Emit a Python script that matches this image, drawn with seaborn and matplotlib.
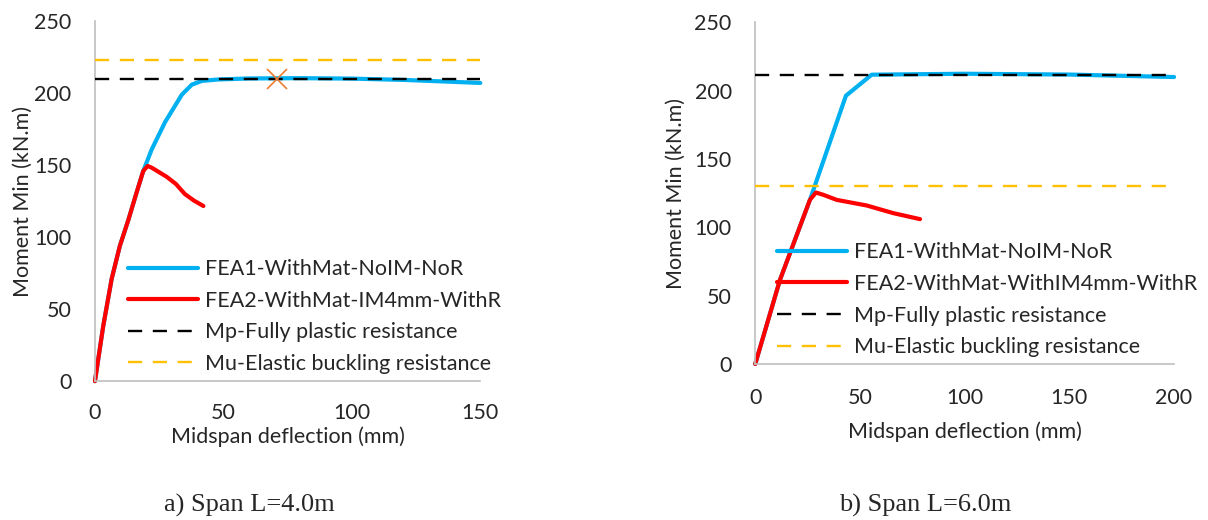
import numpy as np
import pandas as pd
import seaborn as sns
import matplotlib.pyplot as plt

# Span L=4.0m
fea1_4_x = [0, 3.2, 6.5, 9.7, 13.0, 16.2, 18.8, 22.1, 27.3, 33.8, 37.7, 41.6, 48, 60, 80, 100, 120, 150]
fea1_4_y = [0, 38, 71, 94, 112, 131, 146, 161, 180, 199, 206, 208.6, 209.6, 210.3, 210.5, 210.2, 209.3, 207.2]
fea2_4_x = [0, 3.2, 6.5, 9.7, 13.0, 16.2, 18.8, 20.5, 22.1, 27.9, 31.5, 35.0, 38.5, 42.2]
fea2_4_y = [0, 38, 71, 94, 112, 131, 146, 149.5, 148.3, 142, 137, 130, 125.5, 121.7]
mp_4 = 210
mu_4 = 223
cross_4 = (71, 210)

# Span L=6.0m
fea1_6_x = [0, 11.8, 26.1, 43.3, 55.6, 100, 150, 200]
fea1_6_y = [0, 61.5, 120, 196.3, 211.7, 212.4, 211.8, 210]
fea2_6_x = [0, 11.8, 26.1, 29.0, 32.5, 38.9, 53.2, 65.9, 78.7]
fea2_6_y = [0, 61.5, 120.1, 125.5, 123.8, 120.1, 116, 110.4, 106]
mp_6 = 211.2
mu_6 = 130.6

labels_4 = ["FEA1-WithMat-NoIM-NoR", "FEA2-WithMat-IM4mm-WithR",
            "Mp-Fully plastic resistance", "Mu-Elastic buckling resistance"]
labels_6 = ["FEA1-WithMat-NoIM-NoR", "FEA2-WithMat-WithIM4mm-WithR",
            "Mp-Fully plastic resistance", "Mu-Elastic buckling resistance"]

BLUE = "#00B0F0"
RED = "#FF0000"
YELLOW = "#FFC000"
ORANGE = "#ED7D31"
GREY = "#BFBFBF"

sns.set_style("white")
plt.rcParams['font.family'] = ['Lato', 'DejaVu Sans']
FS = 15.5

fig = plt.figure(figsize=(12.08, 5.2), dpi=100)
ax1 = fig.add_axes([0.0786, 0.267, 0.319, 0.692])
ax2 = fig.add_axes([0.6252, 0.300, 0.3467, 0.657])


def draw(ax, x1, y1, x2, y2, mp, mu, xmax, labels, xticks, xpad, ylpad):
    sns.lineplot(x=x1, y=y1, ax=ax, color=BLUE, lw=3, sort=False, estimator=None, label=labels[0])
    sns.lineplot(x=x2, y=y2, ax=ax, color=RED, lw=3, sort=False, estimator=None, label=labels[1])
    ax.plot([0, xmax], [mp, mp], color="black", lw=1.7, dashes=(6, 4.5), label=labels[2], zorder=3)
    ax.plot([0, xmax], [mu, mu], color=YELLOW, lw=1.7, dashes=(6, 4.5), label=labels[3], zorder=3)
    ax.set_xlim(0, xmax)
    ax.set_ylim(0, 250)
    ax.set_xticks(xticks)
    ax.set_yticks([0, 50, 100, 150, 200, 250])
    for s in ["top", "right"]:
        ax.spines[s].set_visible(False)
    for s in ["left", "bottom"]:
        ax.spines[s].set_color(GREY)
        ax.spines[s].set_linewidth(1.2)
    ax.tick_params(axis="both", which="major", direction="out", length=6, width=1.2,
                   color=GREY, labelsize=FS)
    ax.tick_params(axis="x", pad=xpad)
    ax.tick_params(axis="y", pad=11)
    ax.set_ylabel("Moment Min (kN.m)", fontsize=FS, labelpad=ylpad)
    for line in ax.get_lines():
        line.set_clip_on(False)


draw(ax1, fea1_4_x, fea1_4_y, fea2_4_x, fea2_4_y, mp_4, mu_4, 150, labels_4,
     [0, 50, 100, 150], 9.5, 1)
ax1.plot(*cross_4, marker="x", ms=14, mew=1.2, color=ORANGE, zorder=4)
ax1.set_xlabel("Midspan deflection (mm)", fontsize=FS, labelpad=3)
ax1.legend(loc="lower left", bbox_to_anchor=(0.086, 0.02), borderaxespad=0, borderpad=0,
           frameon=False, fontsize=FS, handlelength=3.25, labelspacing=0.54, handletextpad=0.33)

draw(ax2, fea1_6_x, fea1_6_y, fea2_6_x, fea2_6_y, mp_6, mu_6, 200, labels_6,
     [0, 50, 100, 150, 200], 11, 6)
ax2.set_xlabel("Midspan deflection (mm)", fontsize=FS, labelpad=10)
ax2.legend(loc="lower left", bbox_to_anchor=(0.052, 0.02), borderaxespad=0, borderpad=0,
           frameon=False, fontsize=FS, handlelength=3.25, labelspacing=0.54, handletextpad=0.33)

fig.text(249 / 1208, 1 - 505 / 520, "a) Span L=4.0m", ha="center", va="center",
         fontsize=19, family="Liberation Serif")
fig.text(925 / 1208, 1 - 505 / 520, "b) Span L=6.0m", ha="center", va="center",
         fontsize=19, family="Liberation Serif")

fig.savefig("out.png", dpi=100)
